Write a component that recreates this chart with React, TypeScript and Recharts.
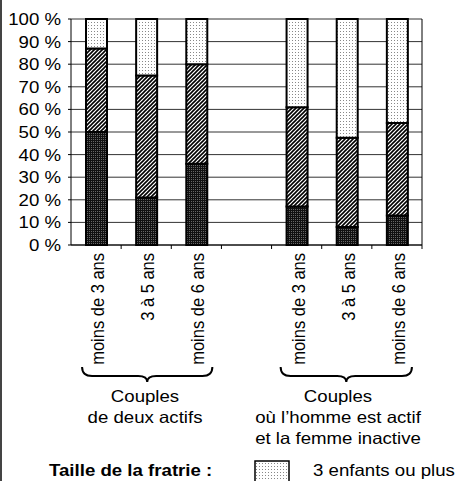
import React from "react";
import { Bar, BarChart, CartesianGrid, XAxis, YAxis } from "recharts";

// bar categories (the empty one is the gap between the two groups)
const categories = [
  "moins de 3 ans",
  "3 à 5 ans",
  "moins de 6 ans",
  "",
  "moins de 3 ans",
  "3 à 5 ans",
  "moins de 6 ans",
];
const oneChild = [50, 21, 36, null, 17, 8, 13];
const twoChildren = [37, 54, 44, null, 44, 39.5, 41];
const threePlus = [13, 25, 20, null, 39, 52.5, 46];
const yTicks = [0, 10, 20, 30, 40, 50, 60, 70, 80, 90, 100];

const groupLeft = ["Couples", "de deux actifs"];
const groupRight = ["Couples", "où l’homme est actif", "et la femme inactive"];
const legendTitle = "Taille de la fratrie :";
const legendLabel = "3 enfants ou plus";

const data = categories.map((name, i) => ({
  name,
  one: oneChild[i],
  two: twoChildren[i],
  three: threePlus[i],
}));

const W = 457;
const H = 481;
const X_H = 30;
const AXIS_Y = 245;
const margin = { top: 19, right: 0, left: 0, bottom: H - AXIS_Y - X_H };
const Y_W = 71;
const R_W = 35;
const BAND = (W - Y_W - R_W) / categories.length;
const FONT = "'Liberation Sans', Arial, sans-serif";
const FS = 16.5;
const SX = 1.13;

const center = (i: number) => Y_W + BAND * (i + 0.5);

function SText({ x, y, anchor = "start", bold = false, children }: any) {
  return (
    <text
      transform={`translate(${x},${y}) scale(${SX},1)`}
      textAnchor={anchor}
      fontFamily={FONT}
      fontSize={FS}
      fontWeight={bold ? "bold" : "normal"}
      fill="#000"
    >
      {children}
    </text>
  );
}

function YTick({ x, y, payload }: any) {
  return (
    <SText x={x} y={y + 6} anchor="end">
      {`${payload.value} %`}
    </SText>
  );
}

function XTick({ x, payload }: any) {
  const bx = x + BAND / 2;
  return (
    <g>
      <line x1={bx} x2={bx} y1={AXIS_Y} y2={AXIS_Y + 4} stroke="#000" />
      {payload.value ? (
        <text
          transform={`translate(${x + 8},${AXIS_Y + 8}) scale(${SX},1) rotate(-90)`}
          textAnchor="end"
          fontFamily={FONT}
          fontSize={FS}
          fill="#000"
        >
          {payload.value}
        </text>
      ) : null}
    </g>
  );
}

function Brace({ x1, x2, y }: { x1: number; x2: number; y: number }) {
  const m = (x1 + x2) / 2;
  const d = `M${x1},${y} Q${x1},${y + 9} ${x1 + 10},${y + 9} L${m - 9},${y + 9} Q${m},${y + 9} ${m},${y + 15} Q${m},${y + 9} ${m + 9},${y + 9} L${x2 - 10},${y + 9} Q${x2},${y + 9} ${x2},${y}`;
  return <path d={d} fill="none" stroke="#000" strokeWidth={2} />;
}

export default function App() {
  return (
    <div style={{ position: "absolute", left: 0, top: 0, width: W, height: H, background: "#fff" }}>
      <BarChart width={W} height={H} data={data} margin={margin} barSize={21}>
        <CartesianGrid vertical={false} stroke="#333" yAxisId="l" />
        <XAxis
          dataKey="name"
          height={X_H}
          interval={0}
          tick={<XTick />}
          tickLine={false}
          tickSize={4}
          tickMargin={4}
          axisLine={{ stroke: "#000" }}
        />
        <YAxis
          yAxisId="l"
          width={Y_W}
          domain={[0, 100]}
          ticks={yTicks}
          interval={0}
          tick={<YTick />}
          tickSize={3}
          tickMargin={7}
          tickLine={{ stroke: "#000" }}
          axisLine={{ stroke: "#000" }}
        />
        <YAxis
          yAxisId="r"
          orientation="right"
          width={R_W}
          domain={[0, 100]}
          tick={false}
          tickLine={false}
          axisLine={{ stroke: "#000" }}
        />
        <Bar yAxisId="l" dataKey="one" stackId="s" fill="url(#pDark)" stroke="#000" strokeWidth={2} isAnimationActive={false} />
        <Bar yAxisId="l" dataKey="two" stackId="s" fill="url(#pHatch)" stroke="#000" strokeWidth={2} isAnimationActive={false} />
        <Bar yAxisId="l" dataKey="three" stackId="s" fill="url(#pDots)" stroke="#000" strokeWidth={2} isAnimationActive={false} />
      </BarChart>
      <svg width={W} height={H} style={{ position: "absolute", left: 0, top: 0, pointerEvents: "none" }}>
        <defs>
          <pattern id="pDark" width={2} height={2} patternUnits="userSpaceOnUse">
            <rect width={2} height={2} fill="#111" />
            <rect x={1} y={1} width={1} height={1} fill="#666" />
          </pattern>
          <pattern id="pHatch" width={4} height={4} patternUnits="userSpaceOnUse">
            <rect width={4} height={4} fill="#fff" />
            <path d="M-1,1 l2,-2 M0,4 l4,-4 M3,5 l2,-2" stroke="#000" strokeWidth={1.6} />
          </pattern>
          <pattern id="pDots" width={3} height={3} patternUnits="userSpaceOnUse">
            <rect width={3} height={3} fill="#fff" />
            <rect x={1} y={1} width={1} height={1} fill="#888" />
          </pattern>
        </defs>
        <line x1={1} x2={1} y1={0} y2={H} stroke="#444" strokeWidth={2} />
        <Brace x1={center(0) - 14} x2={center(2) + 16} y={367} />
        <Brace x1={center(4) - 16} x2={center(6) + 15} y={367} />
        {groupLeft.map((t, i) => (
          <SText key={"l" + i} x={145} y={402 + i * 21} anchor="middle">
            {t}
          </SText>
        ))}
        {groupRight.map((t, i) => (
          <SText key={"r" + i} x={338} y={402 + i * 21} anchor="middle">
            {t}
          </SText>
        ))}
        <SText x={49} y={476} bold>
          {legendTitle}
        </SText>
        <rect x={255} y={461} width={34} height={30} fill="url(#pDots)" stroke="#000" strokeWidth={1.5} />
        <SText x={313} y={476}>
          {legendLabel}
        </SText>
      </svg>
    </div>
  );
}
